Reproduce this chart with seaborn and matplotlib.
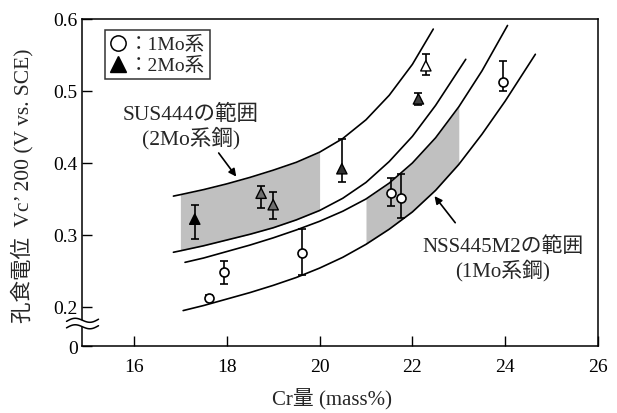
"""Pitting potential vs. Cr content, SUS444 / NSS445M2 ranges."""

import matplotlib
matplotlib.use("Agg")
import matplotlib.pyplot as plt
import numpy as np
import pandas as pd
import seaborn as sns
from matplotlib.lines import Line2D

# ---------------------------------------------------------------------------
# Data
# ---------------------------------------------------------------------------
# 1Mo steels (open circles)
circle_cr = [17.62, 17.94, 19.63, 21.54, 21.76, 23.95]
circle_vc = [0.213, 0.249, 0.275, 0.359, 0.351, 0.513]
circle_lo = [0.210, 0.232, 0.244, 0.340, 0.324, 0.500]
circle_hi = [0.216, 0.264, 0.308, 0.379, 0.385, 0.541]

# 2Mo steels (triangles)
tri_cr = [17.31, 18.74, 19.00, 20.48, 22.13, 22.29]
tri_vc = [0.322, 0.358, 0.342, 0.392, 0.489, 0.535]
tri_lo = [0.294, 0.337, 0.322, 0.374, 0.481, 0.522]
tri_hi = [0.342, 0.368, 0.360, 0.434, 0.497, 0.551]

# boundary curves
sus_top_cr = [16.85, 17.0, 17.5, 18.0, 18.5, 19.0, 19.5, 20.0, 20.5, 21.0, 21.5, 22.0, 22.45]
sus_top_vc = [0.354, 0.356, 0.363, 0.371, 0.380, 0.390, 0.401, 0.415, 0.434, 0.460, 0.494, 0.537, 0.586]
sus_bot_cr = [16.85, 17.0, 17.5, 18.0, 18.5, 19.0, 19.5, 20.0, 20.5, 21.0, 21.5, 22.0, 22.5, 23.15]
sus_bot_vc = [0.276, 0.278, 0.285, 0.293, 0.301, 0.310, 0.321, 0.334, 0.351, 0.373, 0.402, 0.437, 0.480, 0.544]
nss_top_cr = [17.1, 17.5, 18.0, 18.5, 19.0, 19.5, 20.0, 20.5, 21.0, 21.5, 22.0, 22.5, 23.0, 23.5, 24.05]
nss_top_vc = [0.262, 0.268, 0.277, 0.286, 0.296, 0.307, 0.319, 0.333, 0.350, 0.372, 0.400, 0.435, 0.478, 0.528, 0.591]
nss_bot_cr = [17.06, 17.5, 18.0, 18.5, 19.0, 19.5, 20.0, 20.5, 21.0, 21.5, 22.0, 22.5, 23.0, 23.5, 24.0, 24.65]
nss_bot_vc = [0.195, 0.202, 0.211, 0.220, 0.230, 0.241, 0.254, 0.269, 0.287, 0.308, 0.332, 0.362, 0.398, 0.440, 0.486, 0.551]

# shaded Cr ranges
sus_range = (17.0, 20.0)
nss_range = (21.0, 23.0)

x_ticks = [16, 18, 20, 22, 24, 26]
y_ticks = [0.2, 0.3, 0.4, 0.5, 0.6]

# ---------------------------------------------------------------------------
# Style
# ---------------------------------------------------------------------------
sns.set_theme(style="ticks")
plt.rcParams["font.family"] = ["Liberation Serif", "Noto Sans CJK JP"]

FS = 14
Y_ZERO = 0.1458          # where "0" sits on the broken axis
TRI_FILL = ["black", "#6e6e6e", "#6e6e6e", "#303030", "#404040", "white"]
SHADE = "#c0c0c0"


def _band(ax, upper, lower, lims):
    """Fill between two boundary curves inside a Cr window."""
    up = dict(zip(*upper))
    lo = dict(zip(*lower))
    xs = [x for x in upper[0] if lims[0] <= x <= lims[1] and x in lo]
    ax.fill_between(xs, [lo[x] for x in xs], [up[x] for x in xs],
                    color=SHADE, lw=0, zorder=1)


def _axis_break(ax, y0, y1):
    """Draw the '≈' break marks on the y axis."""
    tr = ax.get_yaxis_transform()
    t = np.linspace(0, 1, 60)
    xs = -0.030 + 0.062 * t
    amp = 0.0035
    w_hi = y0 + amp * np.sin(2 * np.pi * t) + 0.003 * t
    w_lo = y1 + amp * np.sin(2 * np.pi * t) + 0.003 * t
    ax.fill_between(xs, w_lo, w_hi, color="white", lw=0, transform=tr,
                    clip_on=False, zorder=5)
    for w in (w_hi, w_lo):
        ax.plot(xs, w, color="black", lw=1.1, transform=tr, clip_on=False, zorder=6)


fig = plt.figure(figsize=(6.17, 4.14), dpi=100)
ax = fig.add_axes([82 / 617, 67 / 414, 516 / 617, 327 / 414])

# shaded ranges
_band(ax, (sus_top_cr, sus_top_vc), (sus_bot_cr, sus_bot_vc), sus_range)
_band(ax, (nss_top_cr, nss_top_vc), (nss_bot_cr, nss_bot_vc), nss_range)

# boundary curves
for cr, vc in [(sus_top_cr, sus_top_vc), (sus_bot_cr, sus_bot_vc),
               (nss_top_cr, nss_top_vc), (nss_bot_cr, nss_bot_vc)]:
    sns.lineplot(x=cr, y=vc, color="black", lw=1.2, ax=ax, zorder=3)

# error bars
for cr, vc, lo, hi in [(circle_cr, circle_vc, circle_lo, circle_hi),
                       (tri_cr, tri_vc, tri_lo, tri_hi)]:
    vc = np.asarray(vc)
    ax.errorbar(cr, vc, yerr=[vc - np.asarray(lo), np.asarray(hi) - vc],
                fmt="none", ecolor="black", elinewidth=1.2, capsize=3.2,
                capthick=1.2, zorder=4)

# markers
circles = pd.DataFrame({"cr": circle_cr, "vc": circle_vc})
sns.scatterplot(data=circles, x="cr", y="vc", marker="o", s=42,
                color="white", edgecolor="black", linewidth=1.2, ax=ax,
                zorder=5, legend=False)
tris = pd.DataFrame({"cr": tri_cr, "vc": tri_vc, "fill": TRI_FILL})
sns.scatterplot(data=tris, x="cr", y="vc", hue="fill",
                palette={c: c for c in TRI_FILL}, marker="^", s=55,
                edgecolor="black", linewidth=1.0, ax=ax, zorder=5, legend=False)

# axes
ax.set_xlim(14.88, 26.0)
ax.set_ylim(Y_ZERO, 0.6)
ax.set_xticks(x_ticks)
ax.set_xticklabels([str(t) for t in x_ticks])
ax.set_yticks([Y_ZERO] + y_ticks)
ax.set_yticklabels(["0"] + [f"{t:.1f}" for t in y_ticks])
ax.tick_params(direction="in", length=7, width=1.0, labelsize=FS, colors="black")
ax.tick_params(axis="x", pad=9)
ax.tick_params(axis="y", pad=3)
for s in ax.spines.values():
    s.set_color("black")
    s.set_linewidth(1.1)
ax.set_xlabel("")
ax.set_ylabel("")

_axis_break(ax, 0.180, 0.171)

# legend
handles = [
    Line2D([], [], ls="", marker="o", ms=11, mfc="white", mec="black", mew=1.1),
    Line2D([], [], ls="", marker="^", ms=11, mfc="black", mec="black"),
]
leg = ax.legend(handles, ["：1Mo系", "：2Mo系"], loc="upper left",
                bbox_to_anchor=(0.044, 0.965), borderaxespad=0, frameon=True,
                fancybox=False, edgecolor="black", fontsize=FS,
                handlelength=0.9, handletextpad=0.1, borderpad=0.25,
                labelspacing=0.15)
leg.get_frame().set_linewidth(1.1)

# range labels with arrows
ax.text(17.23, 0.451, "SUS444の範囲\n(2Mo系鋼)", ha="center", va="center",
        fontsize=15.5, linespacing=1.15)
ax.annotate("", xy=(18.24, 0.378), xytext=(17.79, 0.417),
            arrowprops=dict(arrowstyle="-|>", color="black", lw=1.2, mutation_scale=11))
ax.text(23.95, 0.268, "NSS445M2の範囲\n(1Mo系鋼)", ha="center", va="center",
        fontsize=15, linespacing=1.15)
ax.annotate("", xy=(22.44, 0.357), xytext=(22.96, 0.314),
            arrowprops=dict(arrowstyle="-|>", color="black", lw=1.2, mutation_scale=11))

# axis titles
fig.text(22 / 617, 1 - 186 / 414, "孔食電位  Vc’ 200 (V vs. SCE)", rotation=90,
         ha="center", va="center", fontsize=15.5)
fig.text(332 / 617, 1 - 400 / 414, "Cr量 (mass%)", ha="center", va="center",
         fontsize=15)

fig.savefig("out.png", dpi=100)
